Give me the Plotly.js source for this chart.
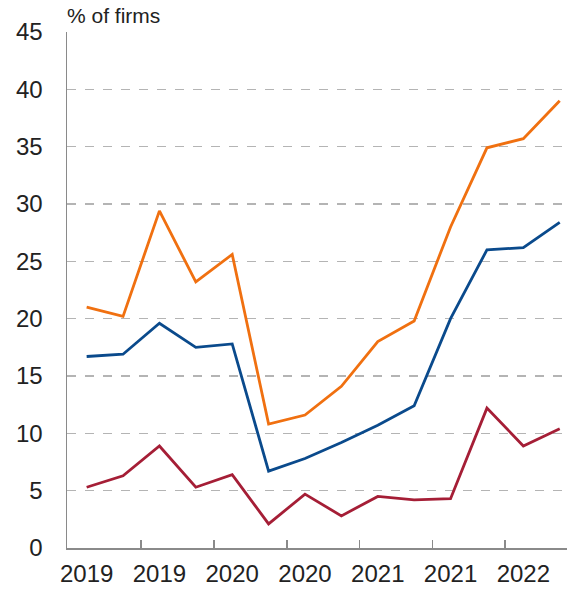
<!DOCTYPE html>
<html>
<head>
<meta charset="utf-8">
<script src="https://cdn.plot.ly/plotly-3.0.1.min.js"></script>
<style>html,body{margin:0;padding:0;background:#fff;}#chart{width:567px;height:595px;}</style>
</head>
<body>
<div id="chart"></div>
<script>
var periods = [0, 1, 2, 3, 4, 5, 6, 7, 8, 9, 10, 11, 12, 13];
var orangeSeries = [21.0, 20.2, 29.4, 23.2, 25.6, 10.8, 11.6, 14.1, 18.0, 19.8, 28.0, 34.9, 35.7, 39.0];
var blueSeries   = [16.7, 16.9, 19.6, 17.5, 17.8, 6.7, 7.8, 9.2, 10.7, 12.4, 20.0, 26.0, 26.2, 28.4];
var redSeries    = [5.3, 6.3, 8.9, 5.3, 6.4, 2.1, 4.7, 2.8, 4.5, 4.2, 4.3, 12.2, 8.9, 10.4];
var labelPositions = [0, 2, 4, 6, 8, 10, 12];
var tickLabels = ['2019', '2019', '2020', '2020', '2021', '2021', '2022'];
var dividerPositions = [1.5, 3.5, 5.5, 7.5, 9.5, 11.5];

var font = 'Liberation Sans, Arial, sans-serif';
function line(y, color) {
  return {x: periods, y: y, type: 'scatter', mode: 'lines',
          line: {color: color, width: 2.8}, hoverinfo: 'skip', showlegend: false};
}
var data = [line(redSeries, '#A51E36'), line(blueSeries, '#0A4A8C'), line(orangeSeries, '#F07010')];

var layout = {
  width: 567, height: 595,
  margin: {l: 67, r: 0, t: 32, b: 47},
  paper_bgcolor: '#fff', plot_bgcolor: '#fff',
  font: {family: font, color: '#222', size: 24},
  xaxis: {
    range: [-0.54, 13.2],
    tickmode: 'array', tickvals: labelPositions, ticktext: tickLabels,
    ticks: '', showgrid: false, zeroline: false,
    showline: true, linecolor: '#8a8a8a', linewidth: 1.5,
    tickfont: {size: 24, color: '#222'},
    ticklabelstandoff: 4,
    minor: {tickmode: 'array', tickvals: dividerPositions, ticks: 'inside', ticklen: 8,
            tickcolor: '#8a8a8a', tickwidth: 1.5, showgrid: false},
    fixedrange: true
  },
  yaxis: {
    range: [0, 45], tickmode: 'linear', tick0: 0, dtick: 5,
    showgrid: true, gridcolor: '#b4b4b4', griddash: 'dash', gridwidth: 1.2,
    zeroline: false, showline: true, linecolor: '#8a8a8a', linewidth: 1.5,
    ticks: 'outside', ticklen: 18, tickcolor: 'rgba(0,0,0,0)',
    tickfont: {size: 24, color: '#222'},
    fixedrange: true
  },
  annotations: [{
    text: '% of firms', xref: 'paper', yref: 'paper', x: 0, y: 1,
    xanchor: 'left', yanchor: 'bottom', yshift: 3, xshift: -2, showarrow: false,
    font: {family: font, size: 21, color: '#222'}
  }]
};
Plotly.newPlot('chart', data, layout, {displayModeBar: false, staticPlot: true});
</script>
</body>
</html>
